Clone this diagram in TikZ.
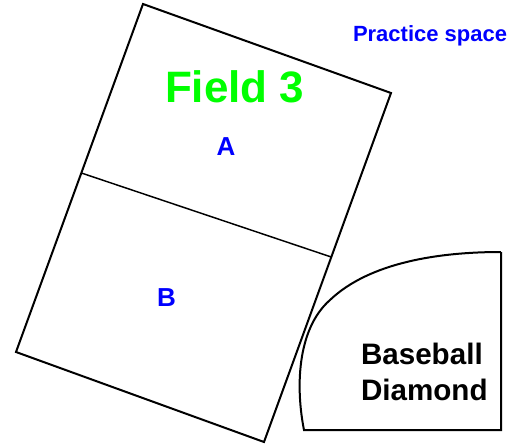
\documentclass[tikz,border=0pt]{standalone}
\usepackage{fontspec}
\setmainfont{Liberation Sans}
\usetikzlibrary{calc}
\definecolor{fgreen}{RGB}{0,255,0}
\definecolor{fblue}{RGB}{0,0,255}
\begin{document}
\begin{tikzpicture}[x=0.75pt,y=-0.75pt,
  fieldline/.style={draw=black,line width=1.5pt,line join=miter},
  divline/.style={draw=black,line width=1.1pt},
  lbl/.style={inner sep=0pt,outer sep=0pt,font=\bfseries}]
\useasboundingbox (0,0) rectangle (508,446);
\fill[white] (0,0) rectangle (508,446);
% field 3
\coordinate (T) at (143,4);
\coordinate (R) at (391,93);
\coordinate (Bt) at (264,442);
\coordinate (L) at (16,352);
\coordinate (DL) at ($(T)!0.4856!(L)$);
\coordinate (DR) at ($(R)!0.47!(Bt)$);
\draw[fieldline] (T) -- (R) -- (Bt) -- (L) -- cycle;
\draw[divline] (DL) -- (DR);
% baseball diamond
\coordinate (BDtop) at (501,252);
\coordinate (BDcorner) at (501,430);
\coordinate (BDleft) at (304,430);
\draw[fieldline] (BDtop) -- (BDcorner) -- (BDleft)
  .. controls (296,390) and (296,330) .. (330,300)
  .. controls (370,262) and (440,252) .. (BDtop);
% labels
\node[lbl,anchor=base west,text=fgreen,font=\bfseries\fontsize{33}{36}\selectfont] (field) at (165,102.7) {Field 3};
\node[lbl,anchor=base west,text=fblue,font=\bfseries\fontsize{19.5}{21}\selectfont] (a) at (216.5,155) {A};
\node[lbl,anchor=base west,text=fblue,font=\bfseries\fontsize{19.5}{21}\selectfont] (b) at (157,306) {B};
\node[lbl,anchor=base west,text=fblue,font=\bfseries\fontsize{16.5}{18}\selectfont] (practice) at (353,41.7) {Practice space};
\node[lbl,anchor=base west,font=\bfseries\fontsize{22.2}{27}\selectfont] (bb) at (361,364) {Baseball};
\node[lbl,anchor=base west,font=\bfseries\fontsize{22.2}{27}\selectfont] (dm) at (361,400) {Diamond};
\end{tikzpicture}
\end{document}
